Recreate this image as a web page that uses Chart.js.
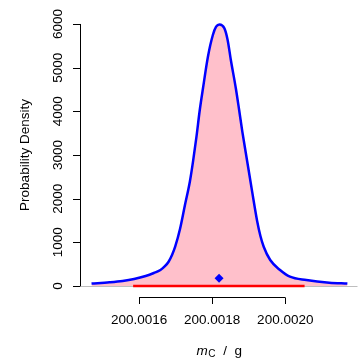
<!DOCTYPE html>
<html>
<head>
<meta charset="utf-8">
<script src="https://cdn.jsdelivr.net/npm/chart.js@4"></script>
<style>
  body { margin: 0; background: #fff; }
  canvas { display: block; }
</style>
</head>
<body>
<canvas id="densityChart" width="362" height="358"></canvas>
<script>
// mass grid (g) and the estimated probability density over it
let massGrid = [
    200.0014700, 200.0015192, 200.0015550, 200.0015865, 200.0016180, 200.0016404,
    200.0016584, 200.0016700, 200.0016808, 200.0016902, 200.0016988, 200.0017122,
    200.0017257, 200.0017392, 200.0017480, 200.0017569, 200.0017661, 200.0017750,
    200.0017884, 200.0018019, 200.0018108, 200.0018199, 200.0018334, 200.0018423,
    200.0018511, 200.0018646, 200.0018738, 200.0018826, 200.0018961, 200.0019096,
    200.0019230, 200.0019320, 200.0019410, 200.0019588, 200.0019857, 200.0020127,
    200.0020576, 200.0021203, 200.0021699
];
let density = [
    57, 85, 115, 160, 229, 298,
    366, 447, 556, 710, 900, 1310,
    1860, 2400, 2870, 3410, 4030, 4534,
    5251, 5748, 5938, 5990, 5901, 5633,
    5175, 4534, 4030, 3530, 2840, 2150,
    1490, 1145, 900, 595, 366, 213,
    137, 76, 57
];

// coverage interval and estimate
let intervalLow = 200.0015838;
let intervalHigh = 200.0020528;
let estimate = 200.0018188;
let estimateMarkY = 176;

let xTicks = [200.0016, 200.0018, 200.0020];
let yTicks = [0, 1000, 2000, 3000, 4000, 5000, 6000];

let curve = massGrid.map((m, i) => ({ x: m, y: density[i] }));
let font = "'Liberation Sans', Arial, Helvetica, sans-serif";

let baseAxes = {
    id: "baseAxes",
    beforeDatasetsDraw(chart) {
        let { ctx, chartArea: a, scales: { y } } = chart;
        let y0 = Math.round(y.getPixelForValue(0)) + 0.5;
        ctx.save();
        ctx.strokeStyle = "#bebebe";
        ctx.lineWidth = 1;
        ctx.beginPath();
        ctx.moveTo(a.left, y0);
        ctx.lineTo(a.right, y0);
        ctx.stroke();
        ctx.restore();
    },
    // the pink area is only shaded inside the coverage interval
    beforeDatasetDraw(chart, args) {
        if (chart.data.datasets[args.index].label !== "interval") return;
        let { ctx, chartArea: a, scales: { x } } = chart;
        let l = x.getPixelForValue(intervalLow);
        let r = x.getPixelForValue(intervalHigh);
        ctx.save();
        ctx.beginPath();
        ctx.rect(l, a.top, r - l, a.bottom - a.top);
        ctx.clip();
    },
    afterDatasetDraw(chart, args) {
        if (chart.data.datasets[args.index].label !== "interval") return;
        chart.ctx.restore();
    },
    afterDraw(chart) {
        let { ctx, chartArea: a, scales: { x, y } } = chart;
        let ax = a.left - 0.5;
        let ay = Math.round(a.bottom) + 0.5;
        ctx.save();
        ctx.strokeStyle = "#000";
        ctx.fillStyle = "#000";
        ctx.lineWidth = 1;

        // y axis
        ctx.beginPath();
        ctx.moveTo(ax, y.getPixelForValue(yTicks[0]));
        ctx.lineTo(ax, y.getPixelForValue(yTicks[yTicks.length - 1]));
        yTicks.forEach(v => {
            let py = Math.round(y.getPixelForValue(v)) + 0.5;
            ctx.moveTo(ax, py);
            ctx.lineTo(ax - 7.5, py);
        });
        ctx.stroke();
        ctx.font = "13.5px " + font;
        ctx.textAlign = "center";
        ctx.textBaseline = "alphabetic";
        yTicks.forEach(v => {
            ctx.save();
            ctx.translate(a.left - 19.3, y.getPixelForValue(v));
            ctx.rotate(-Math.PI / 2);
            ctx.fillText(String(v), 0, 0);
            ctx.restore();
        });

        // x axis
        ctx.beginPath();
        ctx.moveTo(x.getPixelForValue(xTicks[0]), ay);
        ctx.lineTo(x.getPixelForValue(xTicks[xTicks.length - 1]), ay);
        xTicks.forEach(v => {
            let px = Math.round(x.getPixelForValue(v)) + 0.5;
            ctx.moveTo(px, ay);
            ctx.lineTo(px, ay + 6.5);
        });
        ctx.stroke();
        xTicks.forEach(v => {
            ctx.fillText(v.toFixed(4), x.getPixelForValue(v), a.bottom + 27.5);
        });

        // axis titles
        ctx.save();
        ctx.translate(28.5, (a.top + a.bottom) / 2);
        ctx.rotate(-Math.PI / 2);
        ctx.fillText("Probability Density", 0, 0);
        ctx.restore();

        let parts = [
            { t: "m", f: "italic 13.5px " + font, dy: 0, gap: 0.5 },
            { t: "C", f: "10px " + font, dy: 2, gap: 8 },
            { t: "/", f: "13.5px " + font, dy: 0, gap: 7.5 },
            { t: "g", f: "13.5px " + font, dy: 0, gap: 0 }
        ];
        let total = 0;
        parts.forEach(p => { ctx.font = p.f; p.w = ctx.measureText(p.t).width; total += p.w + p.gap; });
        let cx = (a.left + a.right) / 2 - total / 2;
        ctx.textAlign = "left";
        parts.forEach(p => {
            ctx.font = p.f;
            ctx.fillText(p.t, cx, 354.5 + p.dy);
            cx += p.w + p.gap;
        });
        ctx.restore();
    }
};

new Chart(document.getElementById("densityChart"), {
    type: "line",
    data: {
        datasets: [
            {
                label: "estimate",
                data: [{ x: estimate, y: estimateMarkY }],
                showLine: false,
                pointStyle: "rectRot",
                pointRadius: 4.5,
                backgroundColor: "#0000ff",
                borderColor: "#0000ff",
                borderWidth: 0,
                order: 1
            },
            {
                label: "density",
                data: curve,
                borderColor: "#0000ff",
                borderWidth: 2.5,
                pointRadius: 0,
                cubicInterpolationMode: "monotone",
                fill: false,
                order: 2
            },
            {
                label: "coverage",
                data: [{ x: intervalLow, y: 0 }, { x: intervalHigh, y: 0 }],
                borderColor: "#ff0000",
                borderWidth: 2.5,
                pointRadius: 0,
                fill: false,
                order: 3
            },
            {
                label: "interval",
                data: curve,
                borderWidth: 0,
                borderColor: "rgba(0,0,0,0)",
                backgroundColor: "#ffc0cb",
                pointRadius: 0,
                cubicInterpolationMode: "monotone",
                fill: "origin",
                order: 4
            }
        ]
    },
    options: {
        responsive: false,
        animation: false,
        layout: { padding: { left: 81, right: 0, top: 13.5, bottom: 61.5 } },
        scales: {
            x: { type: "linear", display: false, min: 200.00144118, max: 200.00219758 },
            y: { display: false, min: -240, max: 6240 }
        },
        plugins: {
            legend: { display: false },
            tooltip: { enabled: false }
        }
    },
    plugins: [baseAxes]
});
</script>
</body>
</html>
